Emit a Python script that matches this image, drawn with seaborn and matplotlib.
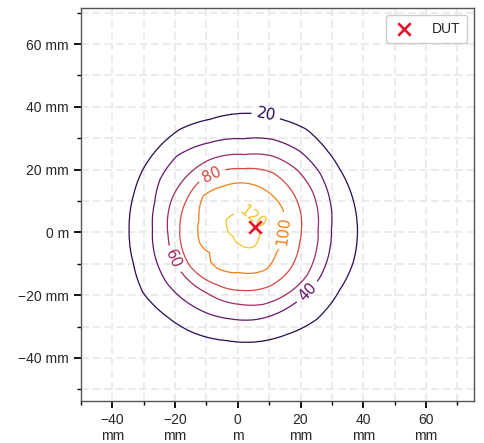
import numpy as np
import matplotlib
matplotlib.use("Agg")
import matplotlib.pyplot as plt
from matplotlib.colors import Normalize
from matplotlib.ticker import EngFormatter, MultipleLocator
import seaborn as sns

# Contour traces of the field (x, y in mm), one list per level
levels = [20, 40, 60, 80, 100, 120]
contour_20 = [(-34.6, 1.0), (-33.3, 11.6), (-30.2, 20.1), (-24.8, 27.5), (-18.5, 32.8),
              (-8.9, 36.0), (3.8, 37.9), (8.6, 37.6), (13.9, 36.0), (21.9, 32.8),
              (28.2, 26.4), (32.5, 20.1), (36.7, 10.5), (38.1, 1.0), (36.7, -9.7),
              (32.5, -18.2), (25.1, -27.7), (15.5, -32.5), (6.0, -34.8), (-3.6, -34.4),
              (-14.2, -31.9), (-22.7, -26.7), (-30.2, -19.2), (-33.3, -9.7)]
contour_40 = [(-27.2, 1.0), (-26.5, 9.5), (-24.8, 16.9), (-19.5, 24.3), (-8.9, 28.6),
              (1.7, 29.8), (11.2, 29.6), (19.7, 25.9), (26.1, 19.0), (29.3, 10.5),
              (29.8, 1.0), (29.3, -5.4), (26.1, -14.4), (17.6, -22.9), (6.0, -27.7),
              (-2.5, -27.5), (-14.2, -23.5), (-22.7, -16.0), (-26.4, -7.5)]
contour_60 = [(-22.2, -1.2), (-21.1, 10.5), (-16.3, 17.9), (-8.9, 23.2), (2.2, 24.8),
              (11.2, 24.3), (18.7, 20.1), (24.0, 12.6), (25.6, 1.0), (25.1, -5.4),
              (21.9, -13.9), (15.5, -19.7), (8.1, -22.9), (0.6, -22.9), (-10.0, -19.2),
              (-17.4, -13.4), (-20.6, -8.6)]
contour_80 = [(-18.5, 1.0), (-16.3, 10.5), (-12.5, 16.0), (-8.4, 18.5), (1.7, 20.3),
              (11.2, 19.0), (17.6, 12.6), (20.3, 1.0), (19.7, -3.3), (16.6, -11.8),
              (10.2, -17.1), (1.7, -18.5), (-6.8, -16.6), (-15.3, -10.7), (-18.5, -1.2)]
contour_100 = [(-12.4, 4.1), (-11.1, 11.6), (-4.7, 14.7), (1.7, 15.8), (11.2, 11.6),
               (14.4, 7.3), (14.5, 1.0), (12.3, -6.5), (9.1, -11.8), (0.6, -12.8),
               (-6.5, -11.5), (-8.6, -9.5), (-9.0, -6.5), (-10.5, -5.5), (-12.1, -3.5)]
contour_120 = [(-1.5, 5.7), (2.0, 6.0), (5.0, 4.5), (6.8, 1.0), (6.5, -2.5), (5.4, -4.4),
               (3.8, -4.9), (0.6, -3.8), (-1.5, -1.2), (-3.6, 2.0), (-3.6, 4.1)]
peak_value = 132
field_center = (1.5, 0.5)

# Device under test position (mm)
dut_x = [5.4]
dut_y = [1.6]

# Contour label anchor points (mm)
label_points = [(9.0, 37.6), (21.9, -18.7), (-20.6, -8.6), (-8.4, 18.5), (14.2, 0.5), (4.0, 4.2)]

traces = {20: contour_20, 40: contour_40, 60: contour_60,
          80: contour_80, 100: contour_100, 120: contour_120}


def radius_profile(pts, theta):
    p = np.asarray(pts, dtype=float) - np.asarray(field_center)
    ang = np.arctan2(p[:, 1], p[:, 0])
    rad = np.hypot(p[:, 0], p[:, 1])
    order = np.argsort(ang)
    return np.interp(theta, ang[order], rad[order], period=2 * np.pi)


# Rebuild a gridded field whose iso-lines follow the traces
xs = np.linspace(-56, 80, 545)
ys = np.linspace(-58, 76, 537)
X, Y = np.meshgrid(xs, ys)
dx, dy = X - field_center[0], Y - field_center[1]
R = np.hypot(dx, dy)
TH = np.arctan2(dy, dx)

desc = sorted(levels, reverse=True)
knots = [np.zeros_like(R)] + [radius_profile(traces[l], TH) for l in desc]
knots.append(knots[-1] + 18.0)
vals = [peak_value] + desc + [0]
Z = np.zeros_like(R)
for k in range(len(knots) - 1):
    r0, r1 = knots[k], knots[k + 1]
    m = (R >= r0) & (R < r1)
    t = (R - r0) / (r1 - r0)
    Z[m] = (vals[k] + t * (vals[k + 1] - vals[k]))[m]

sns.set_style("ticks")
plt.rcParams["font.family"] = ["Liberation Sans", "DejaVu Sans"]
plt.rcParams["font.size"] = 10

fig = plt.figure(figsize=(4.84, 4.43), dpi=100)
ax = fig.add_axes([80.7 / 484, 42 / 443, 393.6 / 484, 393 / 443])

mm = 1e-3
cs = ax.contour(X * mm, Y * mm, Z, levels=levels, cmap="inferno",
                norm=Normalize(vmin=0, vmax=140), linewidths=0.9)
lbls = ax.clabel(cs, fmt="%d", inline=True, fontsize=11,
                 manual=[(px * mm, py * mm) for px, py in label_points])
for t in lbls:
    t.set_fontfamily("DejaVu Sans")

sns.scatterplot(x=np.array(dut_x) * mm, y=np.array(dut_y) * mm, marker="x", s=80,
                color="#e8112d", linewidth=1.9, label="DUT", ax=ax, zorder=5)

ax.set_xlim(-50.1 * mm, 75.4 * mm)
ax.set_ylim(-53.7 * mm, 71.5 * mm)

ax.xaxis.set_major_locator(MultipleLocator(20 * mm))
ax.xaxis.set_minor_locator(MultipleLocator(10 * mm))
ax.yaxis.set_major_locator(MultipleLocator(20 * mm))
ax.yaxis.set_minor_locator(MultipleLocator(10 * mm))
ax.xaxis.set_major_formatter(EngFormatter(unit="m", sep="\n"))
ax.yaxis.set_major_formatter(EngFormatter(unit="m"))

ax.grid(True, which="both", color="#ebebeb", linestyle=(0, (4, 2)), linewidth=1.4, zorder=0)
ax.set_axisbelow(True)
ax.tick_params(which="major", length=5, width=1.3, color="black", labelsize=10)
ax.tick_params(which="minor", length=3, width=1.0, color="black")
for s in ax.spines.values():
    s.set_color("#555555")
    s.set_linewidth(1.0)

ax.set_xlabel("")
ax.set_ylabel("")
leg = ax.legend(loc="upper right", fontsize=10, frameon=True, fancybox=True,
                edgecolor="#cccccc", framealpha=1.0, handlelength=1.6,
                handletextpad=1.2, borderpad=0.5)

fig.savefig("out.png", dpi=100)
